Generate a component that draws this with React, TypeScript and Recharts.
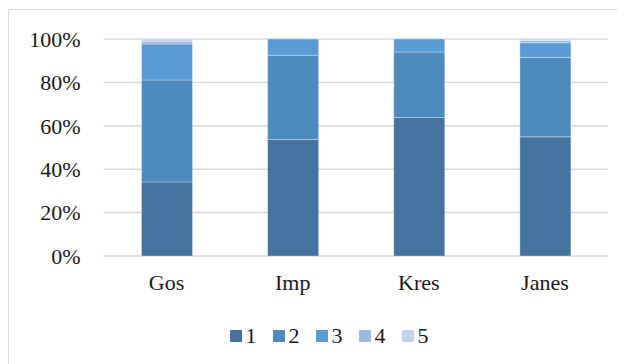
import { BarChart, Bar, XAxis, YAxis, CartesianGrid, Legend } from "recharts";

// Share of answers (%) per group, stacked to 100%.
const groups = ["Gos", "Imp", "Kres", "Janes"];
const s1 = [34.1, 53.7, 63.8, 54.9];
const s2 = [47.0, 38.8, 30.2, 36.6];
const s3 = [16.6, 7.5, 6.0, 6.8];
const s4 = [1.3, 0, 0, 1.0];
const s5 = [1.0, 0, 0, 0.7];
const yTicks = [0, 20, 40, 60, 80, 100];

const SERIES = [
  { key: "1", values: s1, color: "#43739E" },
  { key: "2", values: s2, color: "#4F8ABF" },
  { key: "3", values: s3, color: "#5B9BD5" },
  { key: "4", values: s4, color: "#9DBBE2" },
  { key: "5", values: s5, color: "#C3D4EC" },
];

const data = groups.map((g, i) => {
  const row: Record<string, string | number> = { group: g };
  SERIES.forEach((s) => (row[s.key] = s.values[i]));
  return row;
});

const FONT = "'Liberation Serif', 'Times New Roman', serif";
const INK = "#1a1a1a";
const FS = 22;

function LegendRow({ payload }: any) {
  return (
    <div
      style={{
        height: 69,
        display: "flex",
        alignItems: "center",
        justifyContent: "center",
        paddingLeft: 57,
        paddingTop: 10,
        boxSizing: "border-box",
        fontFamily: FONT,
        fontSize: FS,
        color: INK,
      }}
    >
      {(payload || []).map((p: any) => (
        <span key={p.value} style={{ display: "flex", alignItems: "center", marginRight: 16 }}>
          <span style={{ width: 12, height: 12, background: p.color, marginRight: 4 }} />
          {p.value}
        </span>
      ))}
    </div>
  );
}

export default function App() {
  return (
    <div
      style={{
        position: "relative",
        marginTop: 1,
        width: 620,
        height: 362,
        border: "1px solid #d9d9d9",
        background: "#fff",
      }}
    >
      <BarChart
        width={617}
        height={355}
        data={data}
        margin={{ top: 29, right: 18, bottom: 0, left: 0 }}
        barSize={51}
      >
        <CartesianGrid vertical={false} stroke="#d9d9d9" strokeWidth={1.5} />
        <XAxis
          dataKey="group"
          height={40}
          axisLine={false}
          tickLine={false}
          tickMargin={12}
          tick={{ fill: INK, fontSize: FS, fontFamily: FONT }}
        />
        <YAxis
          domain={[0, 100]}
          ticks={yTicks}
          width={94.5}
          axisLine={false}
          tickLine={false}
          tickSize={0}
          tickMargin={23}
          tickFormatter={(v) => `${v}%`}
          tick={{ fill: INK, fontSize: FS, fontFamily: FONT }}
        />
        <Legend verticalAlign="bottom" content={<LegendRow />} />
        {SERIES.map((s) => (
          <Bar
            key={s.key}
            dataKey={s.key}
            name={s.key}
            stackId="a"
            fill={s.color}
            stroke="#ffffff"
            strokeOpacity={0.3}
            strokeWidth={1}
            isAnimationActive={false}
          />
        ))}
      </BarChart>
    </div>
  );
}
